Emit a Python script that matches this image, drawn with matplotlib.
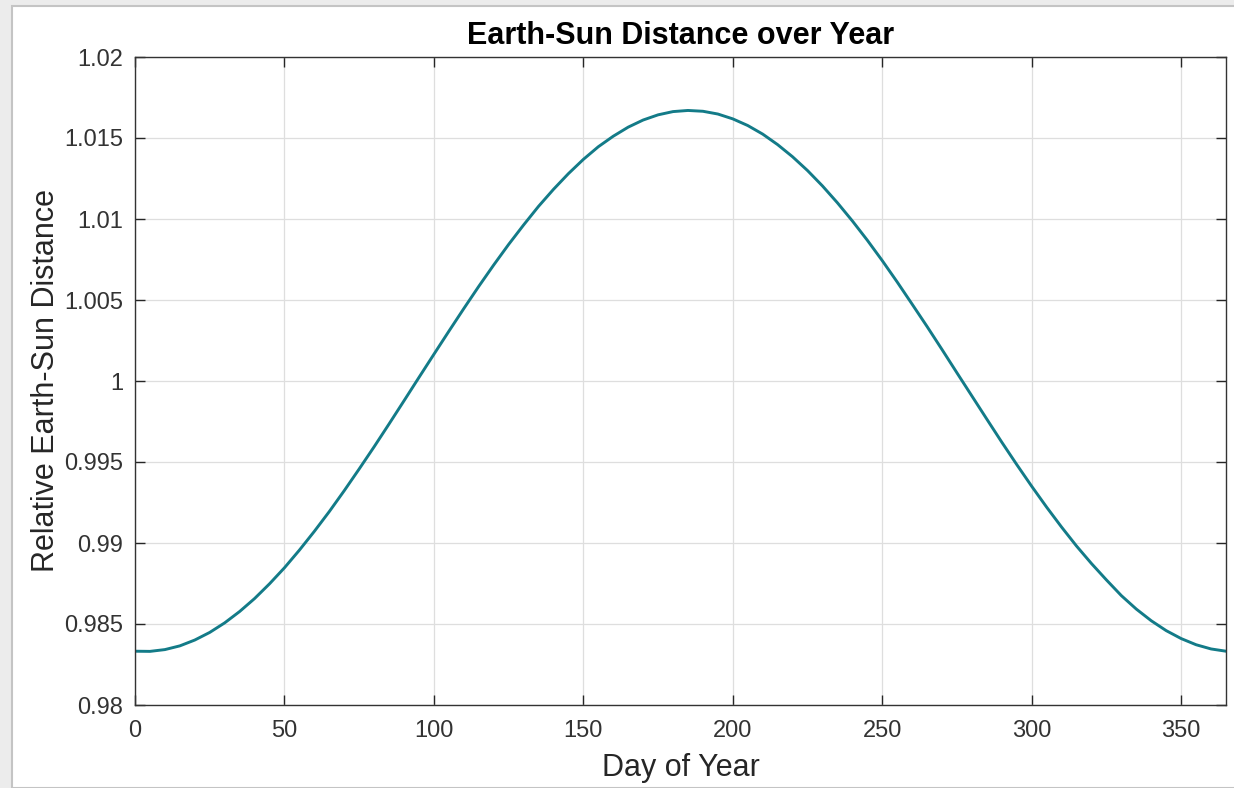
import matplotlib
matplotlib.use("Agg")
import matplotlib.pyplot as plt
from matplotlib.patches import Rectangle

# day of year and relative earth-sun distance (every 5 days)
days = list(range(0, 366, 5))
distance = [0.98332, 0.98331, 0.98342, 0.98365, 0.98401, 0.98448, 0.98507,
            0.98577, 0.98657, 0.98748, 0.98847, 0.98956, 0.99072, 0.99194,
            0.99323, 0.99457, 0.99594, 0.99735, 0.99878, 1.00022, 1.00165,
            1.00307, 1.00447, 1.00584, 1.00716, 1.00843, 1.00963, 1.01078,
            1.01183, 1.01280, 1.01368, 1.01446, 1.01511, 1.01567, 1.01611,
            1.01643, 1.01663, 1.01670, 1.01665, 1.01648, 1.01618, 1.01577,
            1.01524, 1.01459, 1.01384, 1.01299, 1.01204, 1.01100, 1.00988,
            1.00869, 1.00743, 1.00611, 1.00474, 1.00336, 1.00194, 1.00050,
            0.99907, 0.99764, 0.99622, 0.99484, 0.99350, 0.99221, 0.99098,
            0.98981, 0.98873, 0.98772, 0.98675, 0.98592, 0.98520, 0.98459,
            0.98410, 0.98372, 0.98346, 0.98332]

x_ticks = [0, 50, 100, 150, 200, 250, 300, 350]
y_ticks = [0.98, 0.985, 0.99, 0.995, 1.0, 1.005, 1.01, 1.015, 1.02]
y_labels = ["0.98", "0.985", "0.99", "0.995", "1", "1.005", "1.01", "1.015", "1.02"]

plt.rcParams["font.family"] = ["Liberation Sans", "DejaVu Sans"]

W, H = 1234, 788
fig = plt.figure(figsize=(W / 100, H / 100), dpi=100, facecolor="#ececec")
# white window area with a thin gray edge
fig.patches.append(Rectangle((12 / W, 0), 1, 1 - 6 / H, transform=fig.transFigure,
                             facecolor="white", edgecolor="#c4c4c4", linewidth=1.5,
                             zorder=-10))

ax = fig.add_axes([135 / W, 1 - 705 / H, (1226 - 135) / W, (705 - 57) / H])
ax.plot(days, distance, color="#137b88", linewidth=2.1)

ax.set_xlim(0, 365)
ax.set_ylim(0.98, 1.02)
ax.set_xticks(x_ticks)
ax.set_yticks(y_ticks)
ax.set_yticklabels(y_labels)
ax.grid(True, color="#dedede", linewidth=0.9)
ax.set_axisbelow(True)
ax.tick_params(direction="in", length=7, width=1.0, top=True, right=True,
               labelsize=17, colors="#262626", labelcolor="#333333")
ax.tick_params(axis="x", pad=10.5)
ax.tick_params(axis="y", pad=8.5)
for s in ax.spines.values():
    s.set_color("#333333")
    s.set_linewidth(1.0)

ax.set_xlabel("Day of Year", fontsize=22, color="#262626", labelpad=8)
ax.set_ylabel("Relative Earth-Sun Distance", fontsize=22, color="#262626", labelpad=2)
ax.set_title("Earth-Sun Distance over Year", fontsize=22, fontweight="bold", pad=9.5)

fig.savefig("out.png", dpi=100, facecolor=fig.get_facecolor())
